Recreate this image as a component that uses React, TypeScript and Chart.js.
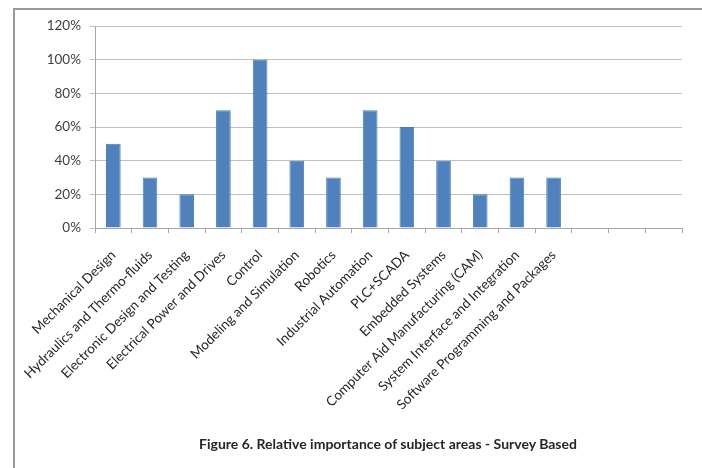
import React, { useEffect, useRef } from "react";
import { Chart, registerables } from "chart.js";

Chart.register(...registerables);

const categories: string[] = [
  "Mechanical Design",
  "Hydraulics and Thermo-fluids",
  "Electronic Design and Testing",
  "Electrical Power and Drives",
  "Control",
  "Modeling and Simulation",
  "Robotics",
  "Industrial Automation",
  "PLC+SCADA",
  "Embedded Systems",
  "Computer Aid Manufacturing (CAM)",
  "System Interface and Integration",
  "Software Programming and Packages",
  "",
  "",
  "",
];

const importance: (number | null)[] = [
  0.5, 0.3, 0.2, 0.7, 1.0, 0.4, 0.3, 0.7, 0.6, 0.4, 0.2, 0.3, 0.3, null, null, null,
];

const yMin = 0;
const yMax = 1.2;
const yStep = 0.2;

const titleText = "Figure 6. Relative importance of subject areas - Survey Based";

const FONT = "Lato, 'Open Sans', sans-serif";

export default function App() {
  const canvasRef = useRef<HTMLCanvasElement | null>(null);

  useEffect(() => {
    if (!canvasRef.current) return;
    const chart = new Chart(canvasRef.current, {
      type: "bar",
      data: {
        labels: categories,
        datasets: [
          {
            data: importance,
            backgroundColor: "#4F81BD",
            borderColor: "#4A7EBB",
            borderWidth: 1,
            barPercentage: 0.4,
            categoryPercentage: 1,
          },
        ],
      },
      options: {
        responsive: false,
        animation: false,
        layout: { padding: { left: 14, top: 26, right: 20, bottom: 0 } },
        plugins: {
          legend: { display: false },
          tooltip: { enabled: false },
          title: { display: false },
        },
        scales: {
          x: {
            offset: true,
            grid: {
              display: true,
              drawOnChartArea: false,
              drawTicks: true,
              tickLength: 5,
              offset: true,
              color: "#A6A6A6",
            },
            border: { color: "#A6A6A6", width: 1 },
            ticks: {
              autoSkip: false,
              minRotation: 45,
              maxRotation: 45,
              padding: 14,
              color: "#262626",
              font: { family: FONT, size: 13.5 },
            },
            afterFit: (scale: any) => {
              scale.height = 240;
            },
          },
          y: {
            min: yMin,
            max: yMax,
            ticks: {
              stepSize: yStep,
              padding: 9,
              color: "#404040",
              font: { family: FONT, size: 13.5 },
              callback: (v: any) => Math.round(Number(v) * 100) + "%",
            },
            grid: {
              color: "#BFBFBF",
              tickLength: 5,
              drawTicks: true,
            },
            border: { color: "#A6A6A6", width: 1 },
            afterFit: (scale: any) => {
              scale.width = 81;
            },
          },
        },
      },
    });
    return () => chart.destroy();
  }, []);

  return (
    <div style={{ position: "absolute", left: 0, top: 0, width: 702, height: 468, overflow: "hidden", background: "#fff" }}>
      <div
        style={{
          position: "absolute",
          left: 13,
          top: 8,
          width: 800,
          height: 500,
          borderLeft: "2px solid #9A9A9A",
          borderTop: "2px solid #9A9A9A",
        }}
      />
      <canvas ref={canvasRef} width={702} height={468} style={{ position: "absolute", left: 0, top: 0 }} />
      <div
        style={{
          position: "absolute",
          left: 138,
          width: 500,
          top: 435,
          textAlign: "center",
          fontFamily: FONT,
          fontWeight: "bold",
          fontSize: 14,
          color: "#262626",
          whiteSpace: "nowrap",
        }}
      >
        {titleText}
      </div>
    </div>
  );
}
